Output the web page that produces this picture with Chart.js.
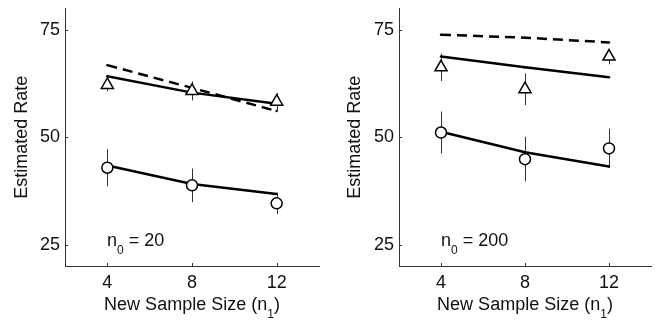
<!DOCTYPE html>
<html>
<head>
<meta charset="utf-8">
<script src="https://cdn.jsdelivr.net/npm/chart.js@4.4.0/dist/chart.umd.min.js"></script>
<style>
body { margin:0; background:#fff; width:661px; height:320px; overflow:hidden; position:relative; font-family:"Liberation Sans", Arial, sans-serif; }
.panel { position:absolute; top:0; height:320px; }
.lbl { position:absolute; font-size:18px; line-height:18px; color:#111; white-space:nowrap; }
.lbl sub { font-size:12px; vertical-align:baseline; position:relative; top:8px; }
</style>
</head>
<body>
<div class="panel" style="left:0;width:330px"><canvas id="left" width="330" height="320"></canvas></div>
<div class="panel" style="left:330px;width:331px"><canvas id="right" width="331" height="320"></canvas></div>
<div class="lbl" style="left:107px;top:231px">n<sub>0</sub> = 20</div>
<div class="lbl" style="left:441px;top:231px">n<sub>0</sub> = 200</div>
<div class="lbl" style="left:65px;width:254px;top:295px;text-align:center">New Sample Size (n<sub>1</sub>)</div>
<div class="lbl" style="left:399px;width:252px;top:295px;text-align:center">New Sample Size (n<sub>1</sub>)</div>
<script>
const xValues = [4, 8, 12];
const xTicks = [4, 8, 12];
const yTicks = [25, 50, 75];

// n0 = 20
const tri20 = [62.2, 60.8, 58.3];
const triErr20 = [1.5, 2.2, 2.0];
const circ20 = [42.9, 38.8, 34.6];
const circErr20 = [4.3, 3.9, 2.5];
const fitTop20 = [64.2, 60.4, 57.8];
const fitLow20 = [43.4, 39.1, 36.8];
const dash20 = [66.8, 61.5, 56.1];

// n0 = 200
const tri200 = [66.3, 61.2, 68.8];
const triErr200 = [3.2, 3.7, 1.8];
const circ200 = [51.1, 44.9, 47.4];
const circErr200 = [4.9, 5.2, 4.6];
const fitTop200 = [68.8, 66.3, 64.0];
const fitLow200 = [51.3, 46.5, 43.2];
const dash200 = [73.9, 73.2, 72.1];

function pts(vals) {
    return xValues.map((x, i) => ({x: x, y: vals[i]}));
}

// error bars behind the markers, ticks pointing inward (matlab style)
const extras = {
    id: 'extras',
    beforeDatasetsDraw(chart) {
        const ctx = chart.ctx;
        const xs = chart.scales.x, ys = chart.scales.y;
        chart.data.datasets.forEach(ds => {
            if (!ds.errors) return;
            ctx.save();
            ctx.strokeStyle = '#333';
            ctx.lineWidth = 1;
            ds.data.forEach((p, i) => {
                const px = Math.round(xs.getPixelForValue(p.x)) + 0.5;
                ctx.beginPath();
                ctx.moveTo(px, ys.getPixelForValue(p.y - ds.errors[i]));
                ctx.lineTo(px, ys.getPixelForValue(p.y + ds.errors[i]));
                ctx.stroke();
            });
            ctx.restore();
        });
    },
    afterDraw(chart) {
        const ctx = chart.ctx;
        const a = chart.chartArea;
        ctx.save();
        ctx.strokeStyle = '#333';
        ctx.lineWidth = 1;
        xTicks.forEach(v => {
            const px = Math.round(chart.scales.x.getPixelForValue(v)) + 0.5;
            ctx.beginPath(); ctx.moveTo(px, a.bottom); ctx.lineTo(px, a.bottom - 3); ctx.stroke();
        });
        yTicks.forEach(v => {
            const py = Math.round(chart.scales.y.getPixelForValue(v)) + 0.5;
            ctx.beginPath(); ctx.moveTo(a.left, py); ctx.lineTo(a.left + 3, py); ctx.stroke();
        });
        ctx.restore();
    }
};

function Panel(dst, tri, triErr, circ, circErr, fitTop, fitLow, dash, yWidth, padRight, titlePad) {
    const ctx = document.getElementById(dst).getContext('2d');
    const lineStyle = {borderColor: '#000', borderWidth: 2.5, pointRadius: 1.2, pointBackgroundColor: '#000',
                       pointBorderWidth: 0, fill: false, tension: 0, order: 2};
    const font = {size: 18, family: '"Liberation Sans", Arial'};
    new Chart(ctx, {
        type: 'line',
        data: {
            datasets: [
                Object.assign({data: pts(fitTop)}, lineStyle),
                Object.assign({data: pts(fitLow)}, lineStyle),
                Object.assign({data: pts(dash), borderDash: [10, 6]}, lineStyle),
                {data: pts(tri), errors: triErr, showLine: false, pointStyle: 'triangle', pointRadius: 7,
                 pointBackgroundColor: '#fff', pointBorderColor: '#000', pointBorderWidth: 1.5, order: 1},
                {data: pts(circ), errors: circErr, showLine: false, pointStyle: 'circle', pointRadius: 5.5,
                 pointBackgroundColor: '#fff', pointBorderColor: '#000', pointBorderWidth: 1.5, order: 1}
            ]
        },
        options: {
            responsive: false,
            animation: false,
            events: [],
            layout: {padding: {top: 7, right: padRight, left: 0, bottom: 0}},
            plugins: {legend: {display: false}, tooltip: {enabled: false}},
            scales: {
                x: {
                    type: 'linear', min: 2, max: 14,
                    afterBuildTicks: s => { s.ticks = xTicks.map(v => ({value: v})); },
                    afterFit: s => { s.height = 54; s.paddingLeft = 0; s.paddingRight = 0; },
                    grid: {display: false, drawTicks: false},
                    border: {display: true, color: '#333', width: 1},
                    ticks: {color: '#111', font: font, padding: 6, maxRotation: 0}
                },
                y: {
                    type: 'linear', min: 20, max: 80,
                    afterBuildTicks: s => { s.ticks = yTicks.map(v => ({value: v})); },
                    afterFit: s => { s.width = yWidth; s.paddingTop = 0; s.paddingBottom = 0; },
                    grid: {display: false, drawTicks: false},
                    border: {display: true, color: '#333', width: 1},
                    ticks: {color: '#111', font: font, padding: 5},
                    title: {display: true, text: 'Estimated Rate', color: '#111',
                            font: font, padding: {top: titlePad, bottom: 0}}
                }
            }
        },
        plugins: [extras]
    });
}

Panel('left', tri20, triErr20, circ20, circErr20, fitTop20, fitLow20, dash20, 65, 11, 11);
Panel('right', tri200, triErr200, circ200, circErr200, fitTop200, fitLow200, dash200, 69, 10, 14);
</script>
</body>
</html>
